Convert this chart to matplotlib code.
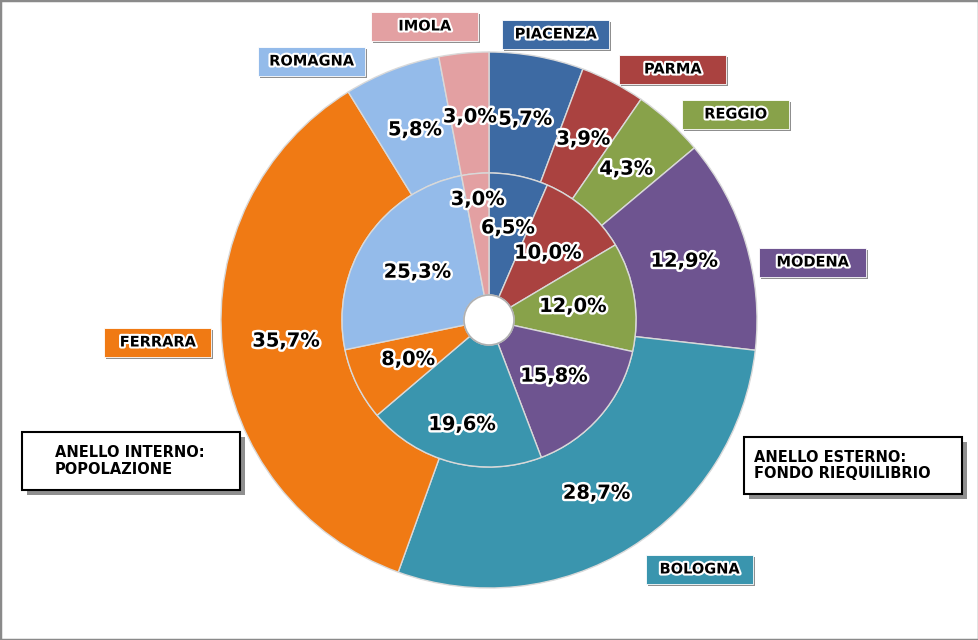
import matplotlib
matplotlib.use("Agg")
import matplotlib.pyplot as plt
import matplotlib.patheffects as pe
from matplotlib.patches import Rectangle, Circle
import numpy as np

# ---- data ----
regions = ["PIACENZA", "PARMA", "REGGIO", "MODENA", "BOLOGNA", "FERRARA", "ROMAGNA", "IMOLA"]
outer_fondo = [5.7, 3.9, 4.3, 12.9, 28.7, 35.7, 5.8, 3.0]       # anello esterno: fondo riequilibrio
inner_pop = [6.5, 10.0, 12.0, 15.8, 19.6, 8.0, 25.3, 3.0]        # anello interno: popolazione
colors = ["#3D6AA3", "#AA4240", "#88A24A", "#6E5490", "#3A95AE", "#F07A14", "#94BBEA", "#E3A0A2"]

W, H = 979, 640
fig = plt.figure(figsize=(W / 100, H / 100), dpi=100)
ax = fig.add_axes([0, 0, 1, 1])
ax.set_xlim(0, W)
ax.set_ylim(0, H)
ax.set_aspect("equal")
ax.axis("off")

cx, cy = 489, H - 320
R_out, R_mid, R_in = 268, 147, 25

stroke = [pe.withStroke(linewidth=3.5, foreground="white")]

w_out, _ = ax.pie(outer_fondo, colors=colors, radius=R_out, center=(cx, cy),
                  startangle=90, counterclock=False,
                  wedgeprops=dict(width=R_out - R_mid, edgecolor="#d9d9d9", linewidth=1.0))
w_in, _ = ax.pie(inner_pop, colors=colors, radius=R_mid, center=(cx, cy),
                 startangle=90, counterclock=False,
                 wedgeprops=dict(width=R_mid - R_in, edgecolor="#d9d9d9", linewidth=1.0))
ax.add_patch(Circle((cx, cy), R_in, facecolor="white", edgecolor="#b0b0b0", linewidth=1.2, zorder=2))
ax.set_xlim(0, W)
ax.set_ylim(0, H)


def fmt(v):
    return f"{v:.1f}%".replace(".", ",")


def mid_angle(w):
    return np.deg2rad((w.theta1 + w.theta2) / 2)


for w, v in zip(w_out, outer_fondo):
    a = mid_angle(w)
    ax.text(cx + 204 * np.cos(a), cy + 204 * np.sin(a), fmt(v), ha="center", va="center",
            fontsize=14, fontweight="bold", color="black", path_effects=stroke, zorder=6)

inner_r = [94, 89, 85, 86, 108, 90, 86, 121]
for w, v, r in zip(w_in, inner_pop, inner_r):
    a = mid_angle(w)
    ax.text(cx + r * np.cos(a), cy + r * np.sin(a), fmt(v), ha="center", va="center",
            fontsize=14, fontweight="bold", color="black", path_effects=stroke, zorder=6)

# category label boxes (center positions in pixel coordinates, top-left origin)
box_pos = {"IMOLA": (425, 26), "PIACENZA": (556, 34), "PARMA": (673, 69), "REGGIO": (736, 114),
           "ROMAGNA": (312, 61), "MODENA": (813, 262), "FERRARA": (158, 342), "BOLOGNA": (700, 569)}
bw, bh = 107, 29
for name, col in zip(regions, colors):
    x, y = box_pos[name]
    y = H - y
    ax.add_patch(Rectangle((x - bw / 2 + 2, y - bh / 2 - 2), bw, bh, facecolor="#444444",
                           edgecolor="none", alpha=0.6, zorder=3))
    ax.add_patch(Rectangle((x - bw / 2, y - bh / 2), bw, bh, facecolor=col,
                           edgecolor="#ffffff", linewidth=0.6, zorder=4))
    ax.text(x, y, name, ha="center", va="center", fontsize=10.5, fontweight="bold",
            color="black", path_effects=[pe.withStroke(linewidth=3, foreground="white")], zorder=5)


# annotation boxes
def note_box(x0, ytop, w, h, lines, pad):
    y0 = H - ytop - h
    ax.add_patch(Rectangle((x0 + 5, y0 - 5), w, h, facecolor="#444444", edgecolor="none",
                           alpha=0.6, zorder=3))
    ax.add_patch(Rectangle((x0, y0), w, h, facecolor="white", edgecolor="black",
                           linewidth=1.5, zorder=4))
    ax.text(x0 + pad, y0 + h / 2, lines, ha="left", va="center", fontsize=10.5,
            fontweight="bold", color="black", linespacing=1.15, zorder=5)


note_box(22, 432, 218, 58, "ANELLO INTERNO:\nPOPOLAZIONE", 33)
note_box(744, 437, 218, 57, "ANELLO ESTERNO:\nFONDO RIEQUILIBRIO", 10)

# figure frame
fig.patches.append(Rectangle((0, 0), 1, 1, transform=fig.transFigure, fill=False,
                             edgecolor="#8a8a8a", linewidth=2.5))

fig.savefig("out.png", dpi=100)
